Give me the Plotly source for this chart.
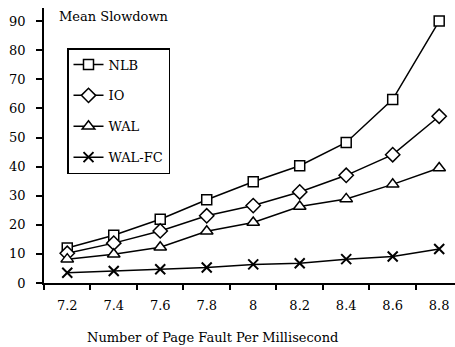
import plotly.graph_objects as go

categories = ["7.2", "7.4", "7.6", "7.8", "8", "8.2", "8.4", "8.6", "8.8"]
nlb = [12.0, 16.4, 21.9, 28.6, 34.8, 40.3, 48.3, 63.1, 90.0]
io = [10.2, 13.7, 17.9, 23.1, 26.6, 31.3, 37.0, 44.1, 57.3]
wal = [8.2, 9.9, 12.3, 17.8, 20.8, 26.3, 28.9, 33.9, 39.5]
walfc = [3.5, 4.1, 4.7, 5.3, 6.4, 6.8, 8.2, 9.1, 11.7]
y_ticks = [0, 10, 20, 30, 40, 50, 60, 70, 80, 90]

FONT = "DejaVu Serif"
FS = 13
W, H = 455, 347
ML, MR, MT, MB = 44, 0, 8, 64
PW, PH = W - ML - MR, H - MT - MB

def px_x(x):
    return (x - ML) / PW

def px_y(y):
    return (H - MB - y) / PH

series = [
    ("NLB", nlb, dict(symbol="square", size=10, color="white", line=dict(color="black", width=1.5))),
    ("IO", io, dict(symbol="diamond", size=11, color="white", line=dict(color="black", width=1.5))),
    ("WAL", wal, dict(symbol="triangle-up", size=11, color="white", line=dict(color="black", width=1.5))),
    ("WAL-FC", walfc, dict(symbol="x-thin", size=10, color="black", line=dict(color="black", width=2))),
]

fig = go.Figure()
for name, vals, mk in series:
    fig.add_trace(go.Scatter(
        x=categories, y=vals, name=name, mode="lines+markers",
        line=dict(color="black", width=1.5), marker=mk,
        legendgroup=name,
    ))

fig.update_layout(
    width=W, height=H,
    margin=dict(l=ML, r=MR, t=MT, b=MB),
    paper_bgcolor="white", plot_bgcolor="white",
    font=dict(family=FONT, size=FS, color="black"),
    showlegend=True,
    legend=dict(
        x=px_x(67), y=px_y(48), xanchor="left", yanchor="top",
        bordercolor="black", borderwidth=1.5, bgcolor="white",
        font=dict(family=FONT, size=FS, color="black"),
        tracegroupgap=11,
    ),
    xaxis=dict(
        type="category", range=[-0.5, 8.34],
        showline=True, linecolor="black", linewidth=1.5,
        ticks="outside", ticklen=5, tickwidth=1.5, tickcolor="black",
        tickson="boundaries", showgrid=False, zeroline=False,
        ticklabelstandoff=10,
        tickfont=dict(family=FONT, size=FS),
    ),
    yaxis=dict(
        range=[0, 94.5], tickvals=y_ticks,
        showline=True, linecolor="black", linewidth=1.5,
        ticks="outside", ticklen=6, tickwidth=1.5, tickcolor="black",
        showgrid=False, zeroline=False,
        ticklabelstandoff=8,
        tickfont=dict(family=FONT, size=FS),
    ),
    annotations=[
        dict(text="Mean Slowdown", xref="paper", yref="paper",
             x=px_x(57), y=px_y(17), xanchor="left", yanchor="middle",
             showarrow=False, font=dict(family=FONT, size=FS)),
        dict(text="Number of Page Fault Per Millisecond", xref="paper", yref="paper",
             x=px_x(212), y=px_y(337), xanchor="center", yanchor="middle",
             showarrow=False, font=dict(family=FONT, size=FS)),
    ],
)

fig.write_html("out.html")
